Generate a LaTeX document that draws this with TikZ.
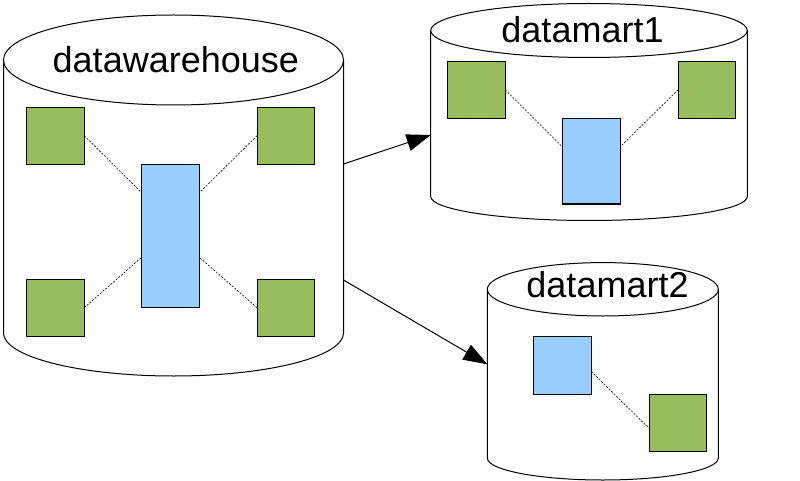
\documentclass[tikz,border=0pt]{standalone}
\usepackage{fontspec}
\setmainfont{Liberation Sans}
\usetikzlibrary{calc,arrows.meta}
\definecolor{boxgreen}{RGB}{151,189,94}
\definecolor{boxblue}{RGB}{153,204,255}
\begin{document}
\begin{tikzpicture}[x=1pt,y=-1pt,
  cylbody/.style={rectangle,inner sep=0pt,outer sep=0pt},
  cylline/.style={line width=1pt,draw=black},
  gsq/.style={rectangle,draw=black,line width=1.1pt,fill=boxgreen,inner sep=0pt,outer sep=0pt,minimum width=57.5pt,minimum height=57pt},
  bsq/.style={rectangle,draw=black,line width=1.1pt,fill=boxblue,inner sep=0pt,outer sep=0pt},
  link/.style={line width=0.6pt,dash pattern=on 2pt off 1.5pt},
  arr/.style={line width=1pt,-{Triangle[length=24pt,width=17pt]}},
  title/.style={anchor=base,inner sep=0pt,font=\fontsize{36}{40}\selectfont}]
\useasboundingbox (0,0) rectangle (800,481);

% ---------- datawarehouse ----------
\node[cylbody,minimum width=340pt,minimum height=273pt] (dw) at (173.5,196.5) {};
\draw[cylline] (dw.north west) -- (dw.south west)
  arc[start angle=180,end angle=0,x radius=170,y radius=43] -- (dw.north east);
\draw[cylline,fill=white] (dw.north) ellipse[x radius=170,y radius=45];
\node[title] (dwt) at (175.8,73) {datawarehouse};

\node[gsq] (g1) at (55.5,135.7) {};
\node[gsq] (g2) at (285.8,135.7) {};
\node[gsq] (g3) at (55.5,307.7) {};
\node[gsq] (g4) at (285.8,307.7) {};
\node[bsq,minimum width=57.6pt,minimum height=143pt] (b1) at (170.5,235.8) {};
\draw[link] (g1.east) -- ($(b1.north west)+(0,28.5)$);
\draw[link] (g2.west) -- ($(b1.north east)+(0,28.5)$);
\draw[link] (g3.east) -- ($(b1.south west)+(0,-50)$);
\draw[link] (g4.west) -- ($(b1.south east)+(0,-50)$);

% ---------- datamart1 ----------
\node[cylbody,minimum width=316.6pt,minimum height=166pt] (dm1) at (589,113.5) {};
\draw[cylline] (dm1.north west) -- (dm1.south west)
  arc[start angle=180,end angle=0,x radius=158.3,y radius=24] -- (dm1.north east);
\draw[cylline,fill=white] (dm1.north) ellipse[x radius=158.3,y radius=27];
\node[title] (dm1t) at (582.5,42.7) {datamart1};

\node[gsq] (g5) at (476.5,89.8) {};
\node[gsq] (g6) at (706.8,89.8) {};
\node[bsq,minimum width=58pt,minimum height=85.7pt] (b2) at (591.3,161.2) {};
\draw[link] (g5.east) -- ($(b2.north west)+(0,28.4)$);
\draw[link] (g6.west) -- ($(b2.north east)+(0,28.4)$);

% ---------- datamart2 ----------
\node[cylbody,minimum width=231pt,minimum height=168.7pt] (dm2) at (602.8,373.65) {};
\draw[cylline] (dm2.north west) -- (dm2.south west)
  arc[start angle=180,end angle=0,x radius=115.5,y radius=22] -- (dm2.north east);
\draw[cylline,fill=white] (dm2.north) ellipse[x radius=115.5,y radius=26.7];
\node[title] (dm2t) at (607.5,297.3) {datamart2};

\node[bsq,minimum width=58pt,minimum height=57.6pt] (b3) at (562.3,365.5) {};
\node[gsq] (g7) at (677.8,422.7) {};
\draw[link] ($(b3.east)+(0,6)$) -- ($(g7.west)+(0,5.6)$);

% ---------- arrows ----------
\draw[arr] ([yshift=32.5pt]dw.east) -- ([yshift=-21.5pt]dm1.west);
\draw[arr] ([yshift=-83.5pt]dw.east) -- ([yshift=9.35pt]dm2.west);
\end{tikzpicture}
\end{document}
